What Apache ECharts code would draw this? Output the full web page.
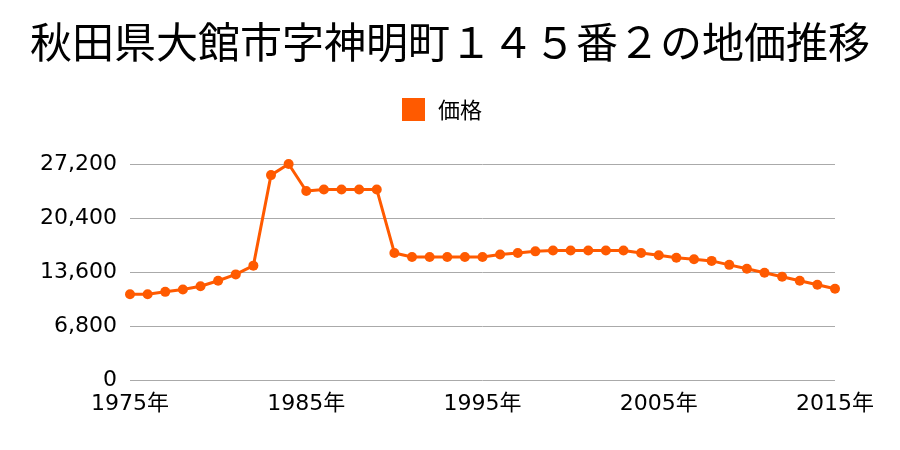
<!DOCTYPE html>
<html><head><meta charset="utf-8">
<script src="https://cdn.jsdelivr.net/npm/echarts@6/dist/echarts.min.js"></script>
<style>html,body{margin:0;padding:0;background:#fff}#c{width:900px;height:450px}</style>
</head><body><div id="c"></div>
<script>
const titleText = '秋田県大館市字神明町１４５番２の地価推移';
const seriesName = '価格';
const years = [];
for (let y = 1975; y <= 2015; y++) years.push(y + '年');
const prices = [
  10800, 10800, 11100, 11400, 11800, 12500, 13300, 14400, 25800, 27200,
  23800, 24000, 24000, 24000, 24000, 16000, 15500, 15500, 15500, 15500,
  15500, 15800, 16000, 16200, 16300, 16300, 16300, 16300, 16300, 16000,
  15700, 15400, 15200, 15000, 14500, 14000, 13500, 13000, 12500, 12000,
  11500
];
const yTicks = [0, 6800, 13600, 20400, 27200];

const chart = echarts.init(document.getElementById('c'), null, {renderer: 'canvas'});
const CJK = '"Noto Sans CJK JP", "Noto Sans", sans-serif';
const NUM = '"DejaVu Sans", "Noto Sans CJK JP", sans-serif';
chart.setOption({
  animation: false,
  backgroundColor: '#fff',
  title: {
    text: titleText, left: 'center', top: 16,
    textStyle: {fontFamily: CJK, fontSize: 42, fontWeight: 'normal', color: '#000'}
  },
  legend: {
    data: [seriesName], top: 93, left: 397,
    itemWidth: 23, itemHeight: 23, icon: 'rect', itemGap: 10,
    textStyle: {fontFamily: CJK, fontSize: 22, color: '#000', padding: [0, 0, 0, 8]}
  },
  grid: {left: 130, right: 65, top: 164, bottom: 70},
  xAxis: {
    type: 'category', data: years, boundaryGap: false,
    axisLine: {show: false}, axisTick: {show: false},
    axisLabel: {interval: 9, fontFamily: NUM, fontSize: 22, color: '#000', margin: 13},
    splitLine: {show: false}
  },
  yAxis: {
    type: 'value', min: 0, max: yTicks[yTicks.length - 1], interval: 6800,
    axisLine: {show: false}, axisTick: {show: false},
    axisLabel: {fontFamily: NUM, fontSize: 22, color: '#000', margin: 13, padding: [3, 0, 0, 0],
      formatter: v => v.toLocaleString('en-US')},
    splitLine: {lineStyle: {color: '#aaa', width: 1}}
  },
  series: [{
    name: seriesName, type: 'line', data: prices,
    symbol: 'circle', symbolSize: 10,
    itemStyle: {color: '#ff5a00'},
    lineStyle: {color: '#ff5a00', width: 3}
  }]
});
</script></body></html>
